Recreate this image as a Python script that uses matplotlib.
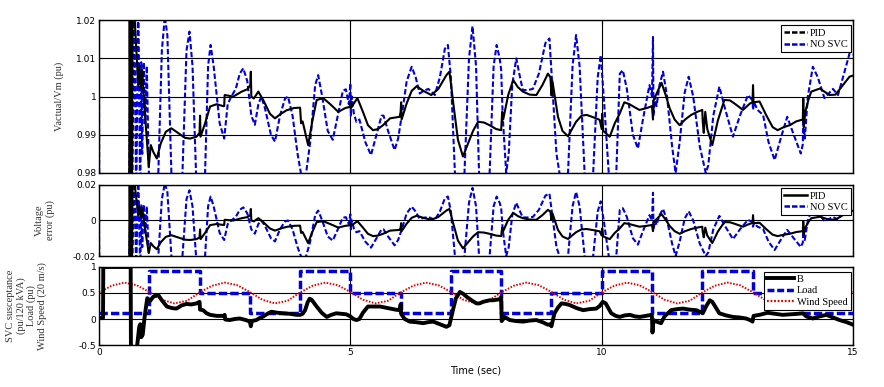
import matplotlib
matplotlib.use('Agg')
import matplotlib.pyplot as plt
from matplotlib.lines import Line2D
import numpy as np

# ---------------- data ----------------
pid_t = [0.60, 0.61, 0.625, 0.64, 0.655, 0.67, 0.76, 0.78, 0.80, 0.83, 0.86, 0.90, 0.95, 0.99, 1.03, 1.08,
         1.15, 1.23, 1.33, 1.44, 1.58, 1.71, 1.81, 1.94, 2.00, 2.01, 2.02, 2.11, 2.21, 2.34, 2.47, 2.49,
         2.50, 2.67, 2.84, 2.95, 3.01, 3.02, 3.03, 3.08, 3.17, 3.27, 3.40, 3.50, 3.62, 3.73, 3.88, 4.00,
         4.02, 4.05, 4.16, 4.25, 4.33, 4.46, 4.60, 4.76, 4.90, 4.99, 5.00, 5.01, 5.14, 5.25, 5.35, 5.45,
         5.55, 5.65, 5.79, 5.98, 6.00, 6.01, 6.02, 6.12, 6.22, 6.32, 6.45, 6.61, 6.75, 6.91, 6.97, 7.00,
         7.04, 7.14, 7.24, 7.34, 7.44, 7.54, 7.66, 7.77, 7.90, 8.00, 8.02, 8.04, 8.14, 8.24, 8.33, 8.43,
         8.57, 8.70, 8.82, 8.93, 8.98, 9.00, 9.02, 9.13, 9.22, 9.33, 9.41, 9.49, 9.60, 9.70, 9.85, 9.96,
         10.00, 10.01, 10.03, 10.16, 10.26, 10.36, 10.45, 10.55, 10.75, 10.90, 11.00, 11.02, 11.03, 11.10,
         11.19, 11.27, 11.35, 11.45, 11.55, 11.66, 11.78, 11.90, 12.00, 12.01, 12.03, 12.06, 12.10, 12.20,
         12.31, 12.44, 12.55, 12.64, 12.81, 12.95, 13.00, 13.01, 13.02, 13.14, 13.27, 13.40, 13.50, 13.62,
         13.74, 13.87, 14.00, 14.01, 14.02, 14.05, 14.12, 14.17, 14.34, 14.44, 14.53, 14.65, 14.80, 14.93,
         15.00]
pid_v = [0.97, 1.03, 0.97, 1.03, 0.97, 1.03, 1.008, 1.003, 1.008, 1.002, 1.007, 0.998, 0.989, 0.9817, 0.9873, 0.9855,
         0.9838, 0.9878, 0.9908, 0.9917, 0.9904, 0.9892, 0.9890, 0.9895, 0.9905, 0.9950, 0.9895, 0.9930, 0.9974, 0.9980, 0.9975, 0.9975,
         1.0004, 1.0000, 1.0013, 1.0019, 1.0030, 1.0065, 1.0000, 0.9995, 1.0013, 0.9990, 0.9955, 0.9943, 0.9955, 0.9964, 0.9970, 0.9971,
         0.9930, 0.9935, 0.9873, 0.9940, 0.9991, 0.9996, 0.9980, 0.9960, 0.9970, 0.9973, 0.9985, 0.9970, 0.9996, 0.9960, 0.9925, 0.9912,
         0.9915, 0.9925, 0.9943, 0.9947, 0.9960, 0.9985, 0.9940, 0.9982, 1.0015, 1.0027, 1.0015, 1.0004, 1.0020, 1.0056, 1.0065, 1.0035,
         0.9990, 0.9887, 0.9843, 0.9877, 0.9910, 0.9934, 0.9932, 0.9925, 0.9915, 0.9912, 0.9960, 0.9940, 1.0004, 1.0043, 1.0025, 1.0013,
         1.0005, 1.0004, 1.0030, 1.0060, 1.0050, 1.0003, 1.0040, 0.9947, 0.9910, 0.9896, 0.9915, 0.9934, 0.9950, 0.9952, 0.9945, 0.9939,
         0.9915, 0.9955, 0.9910, 0.9895, 0.9930, 0.9956, 0.9985, 0.9980, 0.9965, 0.9970, 0.9975, 0.9940, 0.9990, 1.0010,
         1.0036, 1.0005, 0.9970, 0.9940, 0.9925, 0.9940, 0.9952, 0.9960, 0.9965, 0.9935, 0.9905, 0.9960, 0.9915, 0.9873,
         0.9937, 0.9991, 0.9990, 0.9982, 0.9965, 0.9982, 0.9985, 1.0030, 0.9985, 0.9987, 0.9952, 0.9920, 0.9912, 0.9920,
         0.9925, 0.9935, 0.9940, 0.9995, 0.9920, 0.9960, 0.9995, 1.0013, 1.0021, 1.0012, 1.0004, 1.0005, 1.0030, 1.0052,
         1.0055]
pid_err = [-0.03, 0.03, -0.03, 0.03, -0.03, 0.03, 0.008, 0.003, 0.008, 0.002, 0.007, -0.002, -0.011, -0.0183, -0.0127, -0.0145,
           -0.0162, -0.0122, -0.0092, -0.0083, -0.0096, -0.0108, -0.0110, -0.0105, -0.0095, -0.0050, -0.0105, -0.0070, -0.0026, -0.0020, -0.0025, -0.0025,
           0.0004, 0.0000, 0.0013, 0.0019, 0.0030, 0.0065, 0.0000, -0.0005, 0.0013, -0.0010, -0.0045, -0.0057, -0.0045, -0.0036, -0.0030, -0.0029,
           -0.0070, -0.0065, -0.0127, -0.0060, -0.0009, -0.0004, -0.0020, -0.0040, -0.0030, -0.0027, -0.0015, -0.0030, -0.0004, -0.0040, -0.0075, -0.0088,
           -0.0085, -0.0075, -0.0057, -0.0053, -0.0040, -0.0015, -0.0060, -0.0018, 0.0015, 0.0027, 0.0015, 0.0004, 0.0020, 0.0056, 0.0065, 0.0035,
           -0.0010, -0.0113, -0.0157, -0.0123, -0.0090, -0.0066, -0.0068, -0.0075, -0.0085, -0.0088, -0.0040, -0.0060, 0.0004, 0.0043, 0.0025, 0.0013,
           0.0005, 0.0004, 0.0030, 0.0060, 0.0050, 0.0003, 0.0040, -0.0053, -0.0090, -0.0104, -0.0085, -0.0066, -0.0050, -0.0048, -0.0055, -0.0061,
           -0.0085, -0.0045, -0.0090, -0.0105, -0.0070, -0.0044, -0.0015, -0.0020, -0.0035, -0.0030, -0.0025, -0.0060, -0.0010, 0.0010,
           0.0036, 0.0005, -0.0030, -0.0060, -0.0075, -0.0060, -0.0048, -0.0040, -0.0035, -0.0065, -0.0095, -0.0040, -0.0085, -0.0127,
           -0.0063, -0.0009, -0.0010, -0.0018, -0.0035, -0.0018, -0.0015, 0.0030, -0.0015, -0.0013, -0.0048, -0.0080, -0.0088, -0.0080,
           -0.0075, -0.0065, -0.0060, -0.0005, -0.0080, -0.0040, -0.0005, 0.0013, 0.0021, 0.0012, 0.0004, 0.0005, 0.0030, 0.0052,
           0.0055]

nosvc_t = [0.0, 0.005, 0.60, 0.63, 0.66, 0.70, 0.74, 0.78, 0.82, 0.84, 0.86, 0.89, 0.92, 0.95, 1.00, 1.08,
           1.18, 1.25, 1.31, 1.36, 1.44, 1.55, 1.66, 1.74, 1.80, 1.86, 1.93, 2.02, 2.11, 2.17, 2.22, 2.28,
           2.40, 2.49, 2.56, 2.63, 2.72, 2.80, 2.87, 2.95, 3.03, 3.10, 3.17, 3.23, 3.30, 3.42, 3.50, 3.60,
           3.70, 3.76, 3.85, 3.95, 4.03, 4.10, 4.20, 4.30, 4.36, 4.44, 4.55, 4.65, 4.75, 4.85, 4.91, 4.97,
           5.00, 5.01, 5.03, 5.07, 5.12, 5.18, 5.30, 5.41, 5.52, 5.62, 5.66, 5.75, 5.88, 5.95, 6.02, 6.12,
           6.22, 6.30, 6.38, 6.46, 6.55, 6.68, 6.78, 6.88, 6.94, 7.00, 7.08, 7.17, 7.27, 7.36, 7.43, 7.50,
           7.56, 7.66, 7.77, 7.85, 7.91, 7.97, 8.00, 8.03, 8.10, 8.15, 8.22, 8.30, 8.36, 8.43, 8.53, 8.63,
           8.75, 8.88, 8.96, 9.03, 9.10, 9.16, 9.25, 9.33, 9.42, 9.49, 9.56, 9.66, 9.75, 9.83, 9.92, 9.98,
           10.04, 10.14, 10.21, 10.29, 10.36, 10.42, 10.50, 10.62, 10.72, 10.82, 10.95, 11.00, 11.02, 11.03,
           11.06, 11.09, 11.15, 11.22, 11.30, 11.40, 11.47, 11.55, 11.65, 11.73, 11.82, 11.95, 12.07, 12.12,
           12.22, 12.34, 12.45, 12.61, 12.75, 12.91, 13.00, 13.01, 13.03, 13.10, 13.21, 13.32, 13.44, 13.56,
           13.69, 13.82, 13.96, 14.00, 14.01, 14.04, 14.10, 14.20, 14.30, 14.43, 14.60, 14.70, 14.82, 14.93,
           15.00]
nosvc_v = [1.0, 0.97, 0.97, 1.03, 0.97, 1.03, 0.97, 1.03, 0.97, 1.009, 0.985, 1.009, 0.993, 1.008, 0.975, 0.970,
           0.980, 1.012, 1.021, 1.016, 0.980, 0.972, 0.980, 1.012, 1.017, 1.008, 0.980, 0.973, 0.980, 1.008, 1.0135, 1.008,
           0.993, 0.989, 0.998, 1.000, 1.002, 1.006, 1.0074, 1.004, 0.995, 0.9926, 0.998, 1.000, 0.997, 0.990, 0.9882, 0.995,
           0.9995, 1.000, 0.995, 0.985, 0.979, 0.978, 0.988, 1.003, 1.0056, 1.000, 0.991, 0.9887, 0.995, 1.0015, 1.0019, 0.998,
           1.0035, 0.995, 1.000, 0.9955, 0.9934, 0.994, 0.988, 0.9847, 0.990, 0.995, 0.995, 0.991, 0.986, 0.989, 0.9948, 1.004,
           1.0078, 1.005, 1.0008, 1.0015, 1.002, 1.0004, 1.005, 1.0125, 1.0135, 1.005, 0.980, 0.972, 0.980, 1.010, 1.0184, 1.008,
           0.980, 0.972, 0.980, 1.008, 1.0135, 1.010, 1.007, 0.995, 0.980, 0.985, 1.003, 1.010, 1.006, 1.0017, 1.0017, 1.002,
           1.006, 1.014, 1.0152, 1.000, 0.985, 0.980, 0.972, 0.980, 1.008, 1.0161, 1.008, 0.980, 0.973, 0.980, 1.005, 1.0108,
           1.000, 0.980, 0.975, 0.980, 1.006, 1.0069, 1.002, 0.990, 0.9864, 0.994, 1.003, 1.000, 1.0156, 0.995,
           1.000, 0.9975, 1.003, 1.0065, 1.000, 0.987, 0.980, 0.988, 1.001, 1.0052, 1.000, 0.987, 0.980, 0.982,
           0.995, 1.0026, 0.997, 0.9895, 0.995, 1.0004, 0.999, 0.9965, 0.9985, 0.9965, 0.9952, 0.988, 0.9834, 0.989,
           0.9947, 0.990, 0.9851, 0.9875, 0.994, 0.989, 1.000, 1.0078, 1.005, 0.9996, 1.002, 1.0004, 1.006, 1.0113,
           1.011]
nosvc_err = [0.0, -0.03, -0.03, 0.03, -0.03, 0.03, -0.03, 0.03, -0.03, 0.009, -0.015, 0.009, -0.007, 0.008, -0.025, -0.030,
             -0.020, 0.012, 0.021, 0.016, -0.020, -0.028, -0.020, 0.012, 0.017, 0.008, -0.020, -0.027, -0.020, 0.008, 0.0135, 0.008,
             -0.007, -0.011, -0.002, 0.000, 0.002, 0.006, 0.0074, 0.004, -0.005, -0.0074, -0.002, 0.000, -0.003, -0.010, -0.0118, -0.005,
             -0.0005, 0.000, -0.005, -0.015, -0.021, -0.022, -0.012, 0.003, 0.0056, 0.000, -0.009, -0.0113, -0.005, 0.0015, 0.0019, -0.002,
             0.0035, -0.005, 0.000, -0.0045, -0.0066, -0.006, -0.012, -0.0153, -0.010, -0.005, -0.005, -0.009, -0.014, -0.011, -0.0052, 0.004,
             0.0078, 0.005, 0.0008, 0.0015, 0.002, 0.0004, 0.005, 0.0125, 0.0135, 0.005, -0.020, -0.028, -0.020, 0.010, 0.0184, 0.008,
             -0.020, -0.028, -0.020, 0.008, 0.0135, 0.010, 0.007, -0.005, -0.020, -0.015, 0.003, 0.010, 0.006, 0.0017, 0.0017, 0.002,
             0.006, 0.014, 0.0152, 0.000, -0.015, -0.020, -0.028, -0.020, 0.008, 0.0161, 0.008, -0.020, -0.027, -0.020, 0.005, 0.0108,
             0.000, -0.020, -0.025, -0.020, 0.006, 0.0069, 0.002, -0.010, -0.0136, -0.006, 0.003, 0.000, 0.0156, -0.005,
             0.000, -0.0025, 0.003, 0.0065, 0.000, -0.013, -0.020, -0.012, 0.001, 0.0052, 0.000, -0.013, -0.020, -0.018,
             -0.005, 0.0026, -0.003, -0.0105, -0.005, 0.0004, -0.001, -0.0035, -0.0015, -0.0035, -0.0048, -0.012, -0.0166, -0.011,
             -0.0053, -0.010, -0.0149, -0.0125, -0.006, -0.011, 0.000, 0.0078, 0.005, -0.0004, 0.002, 0.0004, 0.006, 0.0113,
             0.011]

b_t = [0.0, 0.08, 0.085, 0.63, 0.635, 0.74, 0.76, 0.80, 0.82, 0.84, 0.87, 0.90, 0.93, 0.96, 1.02, 1.08,
       1.18, 1.25, 1.35, 1.45, 1.54, 1.64, 1.74, 1.84, 1.94, 2.00, 2.01, 2.07, 2.14, 2.21, 2.34, 2.47,
       2.50, 2.51, 2.60, 2.70, 2.80, 2.92, 3.00, 3.02, 3.04, 3.13, 3.20, 3.27, 3.35, 3.43, 3.55, 3.66,
       3.80, 3.93, 4.00, 4.05, 4.10, 4.15, 4.19, 4.23, 4.33, 4.43, 4.53, 4.62, 4.72, 4.82, 4.92, 5.00,
       5.06, 5.12, 5.18, 5.25, 5.35, 5.47, 5.59, 5.69, 5.79, 5.90, 5.98, 6.00, 6.01, 6.08, 6.18, 6.30,
       6.45, 6.55, 6.65, 6.78, 6.91, 6.97, 7.04, 7.10, 7.18, 7.25, 7.31, 7.41, 7.51, 7.57, 7.64, 7.77,
       7.84, 7.97, 8.00, 8.01, 8.07, 8.17, 8.30, 8.44, 8.57, 8.70, 8.82, 8.93, 8.98, 9.00, 9.06, 9.13,
       9.20, 9.28, 9.36, 9.50, 9.63, 9.76, 9.89, 9.96, 10.02, 10.08, 10.19, 10.28, 10.36, 10.46, 10.56, 10.66,
       10.76, 10.88, 10.99, 11.00, 11.01, 11.03, 11.09, 11.18, 11.25, 11.38, 11.50, 11.62, 11.75, 11.88, 11.95, 12.01,
       12.08, 12.15, 12.20, 12.27, 12.34, 12.47, 12.61, 12.74, 12.87, 12.95, 13.00, 13.02, 13.14, 13.30, 13.45, 13.60,
       13.75, 13.90, 14.00, 14.07, 14.20, 14.33, 14.47, 14.60, 14.73, 14.87, 15.00]
b_v = [0.02, 0.02, 1.0, 1.0, -0.6, -0.6, -0.5, -0.15, -0.10, -0.35, -0.30, -0.02, 0.20, 0.40, 0.35, 0.43,
       0.46, 0.36, 0.24, 0.21, 0.20, 0.26, 0.29, 0.28, 0.30, 0.33, 0.18, 0.17, 0.11, 0.08, 0.06, 0.06,
       0.08, -0.01, -0.02, 0.00, 0.01, -0.02, -0.05, -0.14, -0.04, -0.02, 0.02, 0.05, 0.10, 0.14, 0.12, 0.11,
       0.10, 0.08, 0.08, 0.10, 0.17, 0.32, 0.39, 0.37, 0.24, 0.12, 0.04, 0.08, 0.11, 0.10, 0.09, 0.05,
       0.00, -0.02, 0.00, 0.12, 0.24, 0.24, 0.24, 0.22, 0.20, 0.18, 0.17, 0.28, 0.10, 0.00, -0.05, -0.06,
       -0.08, -0.06, -0.05, -0.10, -0.15, -0.12, 0.17, 0.40, 0.52, 0.48, 0.43, 0.36, 0.30, 0.30, 0.33, 0.36,
       0.36, 0.38, 0.42, -0.04, 0.04, -0.02, -0.04, -0.05, -0.03, -0.02, -0.06, -0.11, -0.10, -0.14, 0.11, 0.22,
       0.30, 0.29, 0.27, 0.21, 0.17, 0.19, 0.20, 0.25, 0.33, 0.30, 0.11, 0.06, 0.04, 0.07, 0.08, 0.05,
       0.04, 0.06, 0.08, 0.04, -0.26, -0.02, -0.05, -0.08, 0.05, 0.17, 0.19, 0.20, 0.18, 0.17, 0.14, 0.11,
       0.25, 0.36, 0.33, 0.22, 0.11, 0.07, 0.04, 0.03, 0.01, -0.02, -0.05, 0.06, 0.08, 0.12, 0.10, 0.08,
       0.09, 0.10, 0.11, 0.05, 0.01, 0.05, 0.08, 0.03, -0.02, -0.06, -0.11]

load_t = [0, 1, 2, 3, 4, 5, 6, 7, 8, 9, 10, 11, 12, 13, 14, 15]
load_v = [0.11, 0.92, 0.50, 0.11, 0.92, 0.50, 0.11, 0.92, 0.11, 0.50, 0.92, 0.11, 0.92, 0.50, 0.11, 0.11]

wind_t = [0.0, 0.25, 0.5, 0.75, 1.0, 1.25, 1.5, 1.75, 2.0, 2.25, 2.5, 2.75, 3.0, 3.25, 3.5, 3.75,
          4.0, 4.25, 4.5, 4.75, 5.0, 5.25, 5.5, 5.75, 6.0, 6.25, 6.5, 6.75, 7.0, 7.25, 7.5, 7.75,
          8.0, 8.25, 8.5, 8.75, 9.0, 9.25, 9.5, 9.75, 10.0, 10.25, 10.5, 10.75, 11.0, 11.25, 11.5, 11.75,
          12.0, 12.25, 12.5, 12.75, 13.0, 13.25, 13.5, 13.75, 14.0, 14.25, 14.5, 14.75, 15.0]
wind_v = [0.51, 0.64, 0.70, 0.65, 0.52, 0.37, 0.30, 0.35, 0.51, 0.64, 0.70, 0.65, 0.52, 0.37, 0.30, 0.35,
          0.51, 0.64, 0.70, 0.65, 0.52, 0.37, 0.30, 0.35, 0.51, 0.64, 0.70, 0.65, 0.52, 0.37, 0.30, 0.35,
          0.51, 0.64, 0.70, 0.65, 0.52, 0.37, 0.30, 0.35, 0.51, 0.64, 0.70, 0.65, 0.52, 0.37, 0.30, 0.35,
          0.51, 0.64, 0.70, 0.65, 0.52, 0.37, 0.30, 0.35, 0.51, 0.64, 0.70, 0.65, 0.52]

x_ticks = [0, 5, 10, 15]
top_ticks = [0.98, 0.99, 1.0, 1.01, 1.02]
top_ticklabels = ['0.98', '0.99', '1', '1.01', '1.02']
mid_ticks = [-0.02, 0.0, 0.02]
mid_ticklabels = ['-0.02', '0', '0.02']
bot_ticks = [-0.5, 0.0, 0.5, 1.0]
bot_ticklabels = ['-0.5', '0', '0.5', '1']

# ---------------- styling ----------------
BLUE = '#0000dd'
RED = '#e00000'
SERIF = ['Liberation Serif', 'DejaVu Serif']
SANS = ['DejaVu Sans']
plt.rcParams['font.family'] = SANS

fig = plt.figure(figsize=(8.84, 3.87), dpi=100)
ax1 = fig.add_axes([0.112, 0.553, 0.853, 0.395])
ax2 = fig.add_axes([0.112, 0.3385, 0.853, 0.1835])
ax3 = fig.add_axes([0.112, 0.1085, 0.853, 0.2016])


def style(ax, yt, ytl, ylim, show_x):
    ax.set_xlim(0, 15)
    ax.set_ylim(*ylim)
    ax.set_xticks(x_ticks)
    ax.set_yticks(yt)
    ax.set_yticklabels(ytl)
    ax.grid(True, color='black', lw=0.8)
    ax.set_axisbelow(True)
    ax.tick_params(direction='in', length=3, width=0.8, top=True, right=True,
                   labelsize=6.5, colors='black', pad=2)
    if not show_x:
        ax.tick_params(labelbottom=False)
    for s in ax.spines.values():
        s.set_linewidth(1.0)
        s.set_color('black')


# top panel
ax1.plot(nosvc_t, nosvc_v, color=BLUE, lw=1.5, ls=(0, (2.6, 1.2)))
ax1.plot(pid_t, pid_v, color='black', lw=1.5)
style(ax1, top_ticks, top_ticklabels, (0.98, 1.02), False)
ax1.set_ylabel('Vactual/Vm (pu)', family=SERIF, fontsize=7.5, color='#333333')
ax1.yaxis.set_label_coords(-0.047, 0.5)
h1 = [Line2D([], [], color='black', lw=1.8, ls=(0, (2.2, 0.8))),
      Line2D([], [], color=BLUE, lw=1.8, ls=(0, (2.2, 0.8)))]
ax1.legend(h1, ['PID', 'NO SVC'], loc='upper right', bbox_to_anchor=(0.997, 0.965),
           borderaxespad=0, prop={'family': SERIF, 'size': 7.5}, fancybox=False,
           edgecolor='black', framealpha=1, handlelength=2.2, handletextpad=0.3,
           borderpad=0.3, labelspacing=0.2).get_frame().set_linewidth(0.8)

# middle panel
ax2.plot(nosvc_t, nosvc_err, color=BLUE, lw=1.5, ls=(0, (2.6, 1.2)))
ax2.plot(pid_t, pid_err, color='black', lw=1.5)
style(ax2, mid_ticks, mid_ticklabels, (-0.02, 0.02), False)
ax2.set_ylabel('Voltage\nerror (pu)', family=SERIF, fontsize=7.5, color='#333333',
               linespacing=1.3)
ax2.yaxis.set_label_coords(-0.058, 0.5)
h2 = [Line2D([], [], color='black', lw=1.8),
      Line2D([], [], color=BLUE, lw=1.8, ls=(0, (2.2, 0.8)))]
ax2.legend(h2, ['PID', 'NO SVC'], loc='upper right', bbox_to_anchor=(0.997, 0.955),
           borderaxespad=0, prop={'family': SERIF, 'size': 7.5}, fancybox=False,
           edgecolor='black', framealpha=1, handlelength=2.2, handletextpad=0.3,
           borderpad=0.3, labelspacing=0.2).get_frame().set_linewidth(0.8)

# bottom panel
ax3.step(load_t, load_v, where='post', color=BLUE, lw=2.5, ls=(0, (2.4, 0.9)))
ax3.plot(wind_t, wind_v, color=RED, lw=1.4, ls=(0, (0.8, 0.8)))
ax3.plot(b_t, b_v, color='black', lw=2.8)
style(ax3, bot_ticks, bot_ticklabels, (-0.5, 1.0), True)
ax3.set_ylabel('SVC susceptance\n(pu/120 kVA)\nLoad (pu)\nWind Speed (20 m/s)',
               family=SERIF, fontsize=7.5, color='#333333', linespacing=1.15)
ax3.yaxis.set_label_coords(-0.069, 0.5)
ax3.set_xlabel('Time (sec)', fontsize=7, labelpad=6)
h3 = [Line2D([], [], color='black', lw=2.8),
      Line2D([], [], color=BLUE, lw=2.5, ls=(0, (2.0, 0.8))),
      Line2D([], [], color=RED, lw=1.6, ls=(0, (0.8, 0.8)))]
ax3.legend(h3, ['B', 'Load', 'Wind Speed'], loc='upper right', bbox_to_anchor=(0.997, 0.94),
           borderaxespad=0, prop={'family': SERIF, 'size': 7.5}, fancybox=False,
           edgecolor='black', framealpha=1, handlelength=2.6, handletextpad=0.3,
           borderpad=0.3, labelspacing=0.2).get_frame().set_linewidth(0.8)

fig.savefig('out.png', dpi=100)
